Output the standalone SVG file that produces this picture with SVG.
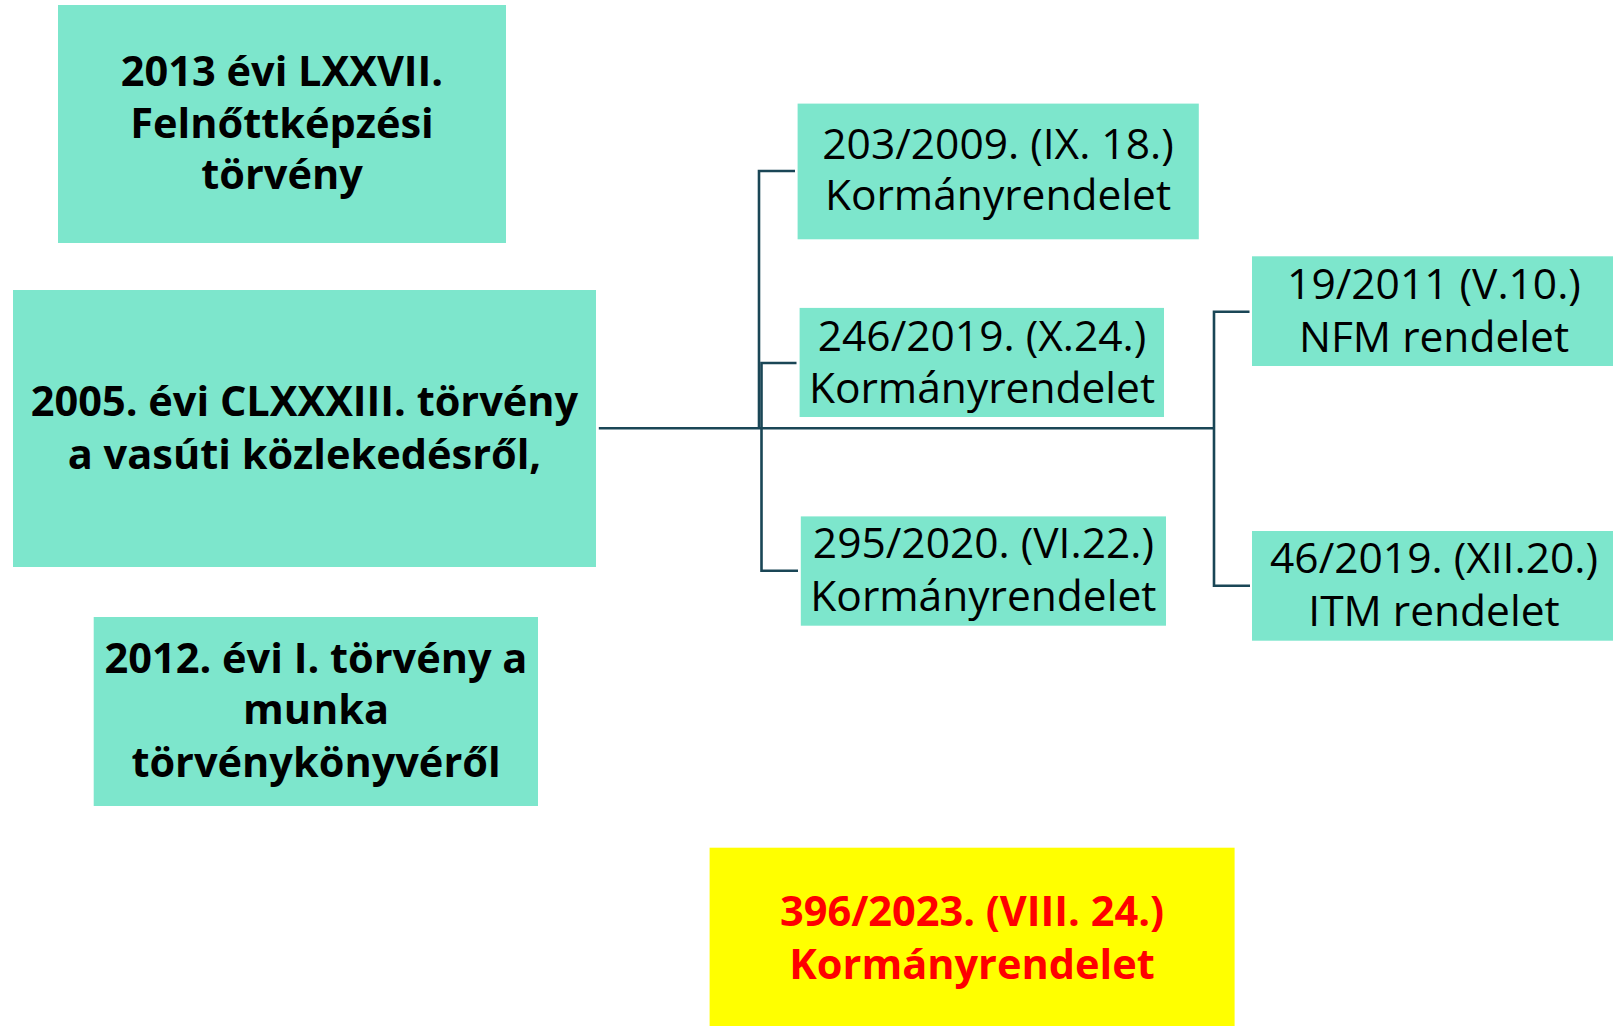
<svg xmlns="http://www.w3.org/2000/svg" width="1613" height="1026" viewBox="0 0 1613 1026">
<style>
.box{fill:#7DE6CC;}
.yel{fill:#FFFF00;}
.b{font-family:"Open Sans","Noto Sans",sans-serif;font-weight:bold;font-size:41.5px;fill:#000;text-anchor:middle;}
.r{font-family:"Open Sans","Noto Sans",sans-serif;font-size:42.5px;fill:#000;text-anchor:middle;}
.red{fill:#FF0000;}
.c{fill:none;stroke:#1A4656;stroke-width:2.6;}
</style>
<rect width="1613" height="1026" fill="#fff"/>
<g id="connectors">
<path class="c" d="M598.8 428.3 H1214"/>
<path class="c" d="M795 171 H759 V428.3"/>
<path class="c" d="M796.5 363 H761.5 V570.7 H798"/>
<path class="c" d="M1249.5 311.7 H1214 V585.7 H1250"/>
</g>
<g id="n2013">
<rect class="box" x="58" y="5" width="448" height="238"/>
<text class="b" x="282" y="86">2013 évi LXXVII.</text>
<text class="b" x="282" y="137.6">Felnőttképzési</text>
<text class="b" x="282" y="188.7">törvény</text>
</g>
<g id="n2005">
<rect class="box" x="13" y="290" width="583" height="277"/>
<text class="b" x="304.5" y="416">2005. évi CLXXXIII. törvény</text>
<text class="b" x="304.5" y="469">a vasúti közlekedésről,</text>
</g>
<g id="n2012">
<rect class="box" x="93.7" y="617" width="444.3" height="189"/>
<text class="b" x="316" y="672.7">2012. évi I. törvény a</text>
<text class="b" x="316" y="724">munka</text>
<text class="b" x="316" y="776.7">törvénykönyvéről</text>
</g>
<g id="n396">
<rect class="yel" x="709.6" y="847.7" width="525" height="178.3"/>
<text class="b red" x="972" y="926">396/2023. (VIII. 24.)</text>
<text class="b red" x="972" y="979">Kormányrendelet</text>
</g>
<g id="n203">
<rect class="box" x="797.6" y="103.6" width="401.2" height="135.7"/>
<text class="r" x="998" y="159">203/2009. (IX. 18.)</text>
<text class="r" x="998" y="210.4">Kormányrendelet</text>
</g>
<g id="n246">
<rect class="box" x="799.6" y="307.9" width="364.4" height="109.1"/>
<text class="r" x="982" y="351">246/2019. (X.24.)</text>
<text class="r" x="982" y="403">Kormányrendelet</text>
</g>
<g id="n295">
<rect class="box" x="800.8" y="516.4" width="365.2" height="109.3"/>
<text class="r" x="983.4" y="558">295/2020. (VI.22.)</text>
<text class="r" x="983.4" y="611">Kormányrendelet</text>
</g>
<g id="n19">
<rect class="box" x="1252" y="256.3" width="361" height="109.7"/>
<text class="r" x="1434" y="299">19/2011 (V.10.)</text>
<text class="r" x="1434" y="351.5">NFM rendelet</text>
</g>
<g id="n46">
<rect class="box" x="1252" y="531" width="361" height="109.7"/>
<text class="r" x="1434" y="572.5">46/2019. (XII.20.)</text>
<text class="r" x="1434" y="625.5">ITM rendelet</text>
</g>
</svg>
